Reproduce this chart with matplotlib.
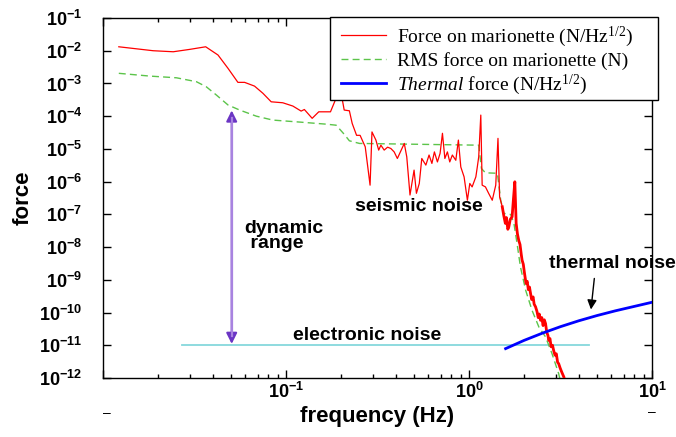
import numpy as np
import matplotlib
matplotlib.use("Agg")
import matplotlib.pyplot as plt
from matplotlib.patches import Rectangle
from matplotlib.ticker import FuncFormatter, NullFormatter, NullLocator, LogLocator

plt.rcParams["font.family"] = ["Liberation Sans", "DejaVu Sans"]
plt.rcParams["mathtext.fontset"] = "custom"
plt.rcParams["mathtext.bf"] = "Liberation Sans:bold"
plt.rcParams["mathtext.rm"] = "Liberation Serif"
plt.rcParams["mathtext.it"] = "Liberation Serif:italic"

# force on marionette (N/Hz^1/2)
force_freq = [0.0122, 0.0188, 0.0242, 0.0298, 0.0364, 0.0425, 0.0482, 0.0546,
              0.0594, 0.0673, 0.0748, 0.083, 0.096, 0.109, 0.121, 0.126, 0.139,
              0.151, 0.175, 0.186, 0.2, 0.208, 0.222, 0.23, 0.243, 0.254, 0.271,
              0.288, 0.295, 0.31, 0.321, 0.33, 0.344, 0.359, 0.374, 0.39, 0.406,
              0.443, 0.457, 0.476, 0.501, 0.516, 0.535, 0.552, 0.581, 0.605,
              0.627, 0.647, 0.672, 0.695, 0.716, 0.738, 0.762, 0.785, 0.811,
              0.847, 0.875, 0.902, 0.94, 0.98, 1.01, 1.04, 1.09, 1.11, 1.13,
              1.16, 1.18, 1.23, 1.28, 1.34, 1.40, 1.44, 1.47, 1.52, 1.55, 1.58,
              1.60, 1.63, 1.65, 1.68, 1.72, 1.75, 1.78, 1.81, 1.84, 1.87, 1.90,
              1.93, 1.95, 1.98, 2.01, 2.05, 2.08, 2.11, 2.14, 2.17, 2.20, 2.24,
              2.27, 2.31, 2.35, 2.39, 2.42, 2.46, 2.50, 2.54, 2.58, 2.62, 2.66,
              2.70, 2.73, 2.77, 2.81, 2.86, 2.90, 2.95, 3.00, 3.05, 3.09, 3.15,
              3.20, 3.25, 3.30, 3.38]
force_val = [1.32e-2, 1.0e-2, 9.3e-3, 1.1e-2, 1.32e-2, 7.4e-3, 2.9e-3, 1.08e-3,
             1.08e-3, 8.3e-4, 5.0e-4, 2.75e-4, 2.57e-4, 2.04e-4, 1.43e-4, 1.6e-4,
             8.6e-5, 1.36e-4, 1.36e-4, 3.1e-4, 5.1e-4, 1.54e-4, 1.46e-4, 6.0e-5,
             2.6e-5, 2.6e-5, 1.16e-5, 7.8e-7, 3.3e-5, 1.86e-5, 9.2e-6, 1.3e-5,
             9.2e-6, 1.13e-5, 1.03e-5, 8.1e-6, 5.1e-6, 1.47e-5, 5.7e-6, 3.9e-7,
             2.25e-6, 4.4e-7, 8.8e-7, 5.1e-6, 3.2e-6, 6.5e-6, 3.6e-6, 8.1e-6,
             4.0e-6, 7.3e-6, 3.0e-5, 5.1e-6, 8.1e-6, 4.0e-6, 6.5e-6, 4.5e-6,
             1.86e-5, 2.8e-6, 1.4e-6, 2.7e-7, 8.8e-7, 6.9e-7, 1.4e-6, 2.8e-6,
             5.7e-6, 1.08e-4, 7.8e-7, 6.9e-7, 4.4e-7, 2.7e-7, 7.8e-7, 2.1e-5,
             3.4e-7, 1.7e-7, 9.0e-8, 5.3e-8, 8.0e-8, 3.5e-8, 4.1e-8, 7.0e-8,
             8.4e-8, 3.0e-7, 9.9e-7, 5.3e-8, 2.5e-8, 1.6e-8, 1.2e-8, 6.0e-9,
             4.0e-9, 3.0e-9, 1.6e-9, 7.7e-10, 9.0e-10, 5.0e-10, 6.0e-10, 3.8e-10,
             2.5e-10, 3.0e-10, 1.8e-10, 1.5e-10, 1.1e-10, 7.0e-11, 9.0e-11,
             5.8e-11, 7.0e-11, 4.0e-11, 6.0e-11, 4.6e-11, 2.5e-11, 2.0e-11,
             1.4e-11, 1.6e-11, 9.0e-12, 1.0e-11, 7.0e-12, 5.0e-12, 5.5e-12,
             3.0e-12, 2.75e-12, 2.0e-12, 1.6e-12, 1.3e-12, 1.07e-12, 6.0e-13]

# RMS force on marionette (N)
rms_freq = [0.0122, 0.018, 0.0252, 0.0324, 0.0367, 0.0417, 0.0482, 0.0558,
            0.0689, 0.0847, 0.119, 0.166, 0.188, 0.208, 0.222, 0.252, 1.13,
            1.17, 1.23, 1.43, 1.49, 1.55, 1.69, 1.76, 1.83, 1.91, 2.04, 2.21,
            2.41, 2.62, 2.84, 3.09, 3.17]
rms_val = [2.04e-3, 1.68e-3, 1.49e-3, 1.13e-3, 7.9e-4, 4.4e-4, 2.2e-4, 1.54e-4,
           1.0e-4, 7.6e-5, 6.6e-5, 5.7e-5, 5.3e-5, 2.8e-5, 1.77e-5, 1.47e-5,
           1.3e-5, 2.5e-6, 1.86e-6, 1.8e-6, 2.7e-7, 1.07e-7, 9.9e-8, 5.3e-8,
           1.3e-8, 2.5e-9, 4.8e-10, 1.17e-10, 3.6e-11, 1.8e-11, 5.6e-12,
           1.36e-12, 7.4e-13]

# thermal force (N/Hz^1/2)
thermal_freq = [1.585, 2.0, 2.51, 3.16, 3.98, 5.01, 6.31, 10.0]
thermal_val = [7.9e-12, 1.41e-11, 2.33e-11, 3.7e-11, 5.6e-11, 8.1e-11, 1.13e-10, 2.06e-10]

# electronic noise floor
elec_freq = [0.027, 4.5]
elec_val = [1e-11, 1e-11]

fig = plt.figure(figsize=(6.76, 4.37), dpi=100)
ax = fig.add_axes([103 / 676, 59 / 437, 549 / 676, 360 / 437])

ff = np.array(force_freq)
fv = np.array(force_val)

ax.plot(elec_freq, elec_val, color="#86d8dc", lw=1.3, zorder=1)
l_force, = ax.plot(ff, fv, color="#ff0000", lw=0.9, zorder=3)
tail = ff >= 1.5
ax.plot(ff[tail], fv[tail], color="#ff0000", lw=2.0, zorder=3)
l_rms, = ax.plot(rms_freq, rms_val, color="#5cc44a", lw=1.0, dashes=(5, 3), zorder=2)
l_th, = ax.plot(thermal_freq, thermal_val, color="#0000ff", lw=2.0, zorder=4)

ax.set_xscale("log")
ax.set_yscale("log")
ax.set_xlim(1e-2, 1e1)
ax.set_ylim(1e-12, 1e-1)

ax.yaxis.set_major_locator(LogLocator(base=10, numticks=20))
ax.yaxis.set_minor_locator(NullLocator())


def exp_label(v, p):
    return r"$\mathbf{10^{%d}}$" % round(np.log10(v))


def exp_label_x(v, p):
    if v < 0.05:
        return ""
    return exp_label(v, p)


ax.xaxis.set_major_formatter(FuncFormatter(exp_label_x))
ax.yaxis.set_major_formatter(FuncFormatter(exp_label))
ax.xaxis.set_minor_formatter(NullFormatter())
ax.tick_params(which="both", direction="in", top=True, right=True, width=1)
ax.tick_params(which="major", length=5.5, labelsize=13)
ax.tick_params(which="minor", length=3)
ax.tick_params(axis="x", which="major", pad=3)
ax.tick_params(axis="y", which="major", pad=15)
for s in ax.spines.values():
    s.set_linewidth(1)

ax.set_xlabel("frequency (Hz)", fontsize=16, fontweight="bold", labelpad=3)
ax.set_ylabel("force", fontsize=16, fontweight="bold")
ax.yaxis.set_label_coords(-0.126, 0.5)

# dynamic range arrow
ax.annotate("", xy=(0.0505, 1.5e-4), xytext=(0.0505, 1.1e-11),
            arrowprops=dict(arrowstyle="<|-|>", color="#6b35c4", lw=1.5,
                            mutation_scale=16, shrinkA=0, shrinkB=0), zorder=4)
ax.plot([0.0505, 0.0505], [9e-5, 1.9e-11], color="#a883e0", lw=1.6, zorder=5)
ax.text(0.0594, 2.2e-8, "dynamic\n range", fontsize=14, fontweight="bold",
        ha="left", va="center", linespacing=0.9)
ax.text(0.534, 1.7e-7, "seismic noise", fontsize=14, fontweight="bold",
        ha="center", va="center")
ax.text(0.278, 2.0e-11, "electronic noise", fontsize=14, fontweight="bold",
        ha="center", va="center")
ax.text(6.1, 3.1e-9, "thermal noise", fontsize=14, fontweight="bold",
        ha="center", va="center", clip_on=False)
ax.annotate("", xy=(4.64, 1.24e-10), xytext=(4.84, 1.1e-9),
            arrowprops=dict(arrowstyle="-|>", color="black", lw=1,
                            mutation_scale=14, shrinkA=0, shrinkB=0))

# legend box
ax.add_patch(Rectangle((330 / 676, 1 - 100 / 437), 328 / 676, 83.3 / 437,
                       transform=fig.transFigure, facecolor="white",
                       edgecolor="black", lw=1, clip_on=False, zorder=6))
leg = ax.legend([l_force, l_rms, l_th],
                ["Force on marionette (N/Hz$^{\\mathrm{1/2}}$)",
                 "RMS force on marionette (N)",
                 "$\\mathit{Thermal}$ force (N/Hz$^{\\mathrm{1/2}}$)"],
                loc="upper left", bbox_to_anchor=(341 / 676, 1 - 24.5 / 437),
                bbox_transform=fig.transFigure, borderaxespad=0,
                prop={"family": "Liberation Serif", "size": 14},
                handlelength=2.3, handletextpad=0.6, labelspacing=0.15,
                borderpad=0, frameon=False)
leg.set_zorder(7)

fig.text(107 / 676, 1 - 413 / 437, "\u2013", fontsize=10, ha="center", va="center")
fig.text(652 / 676, 1 - 412 / 437, "\u2013", fontsize=10, ha="center", va="center")

fig.savefig("out.png", dpi=100)
